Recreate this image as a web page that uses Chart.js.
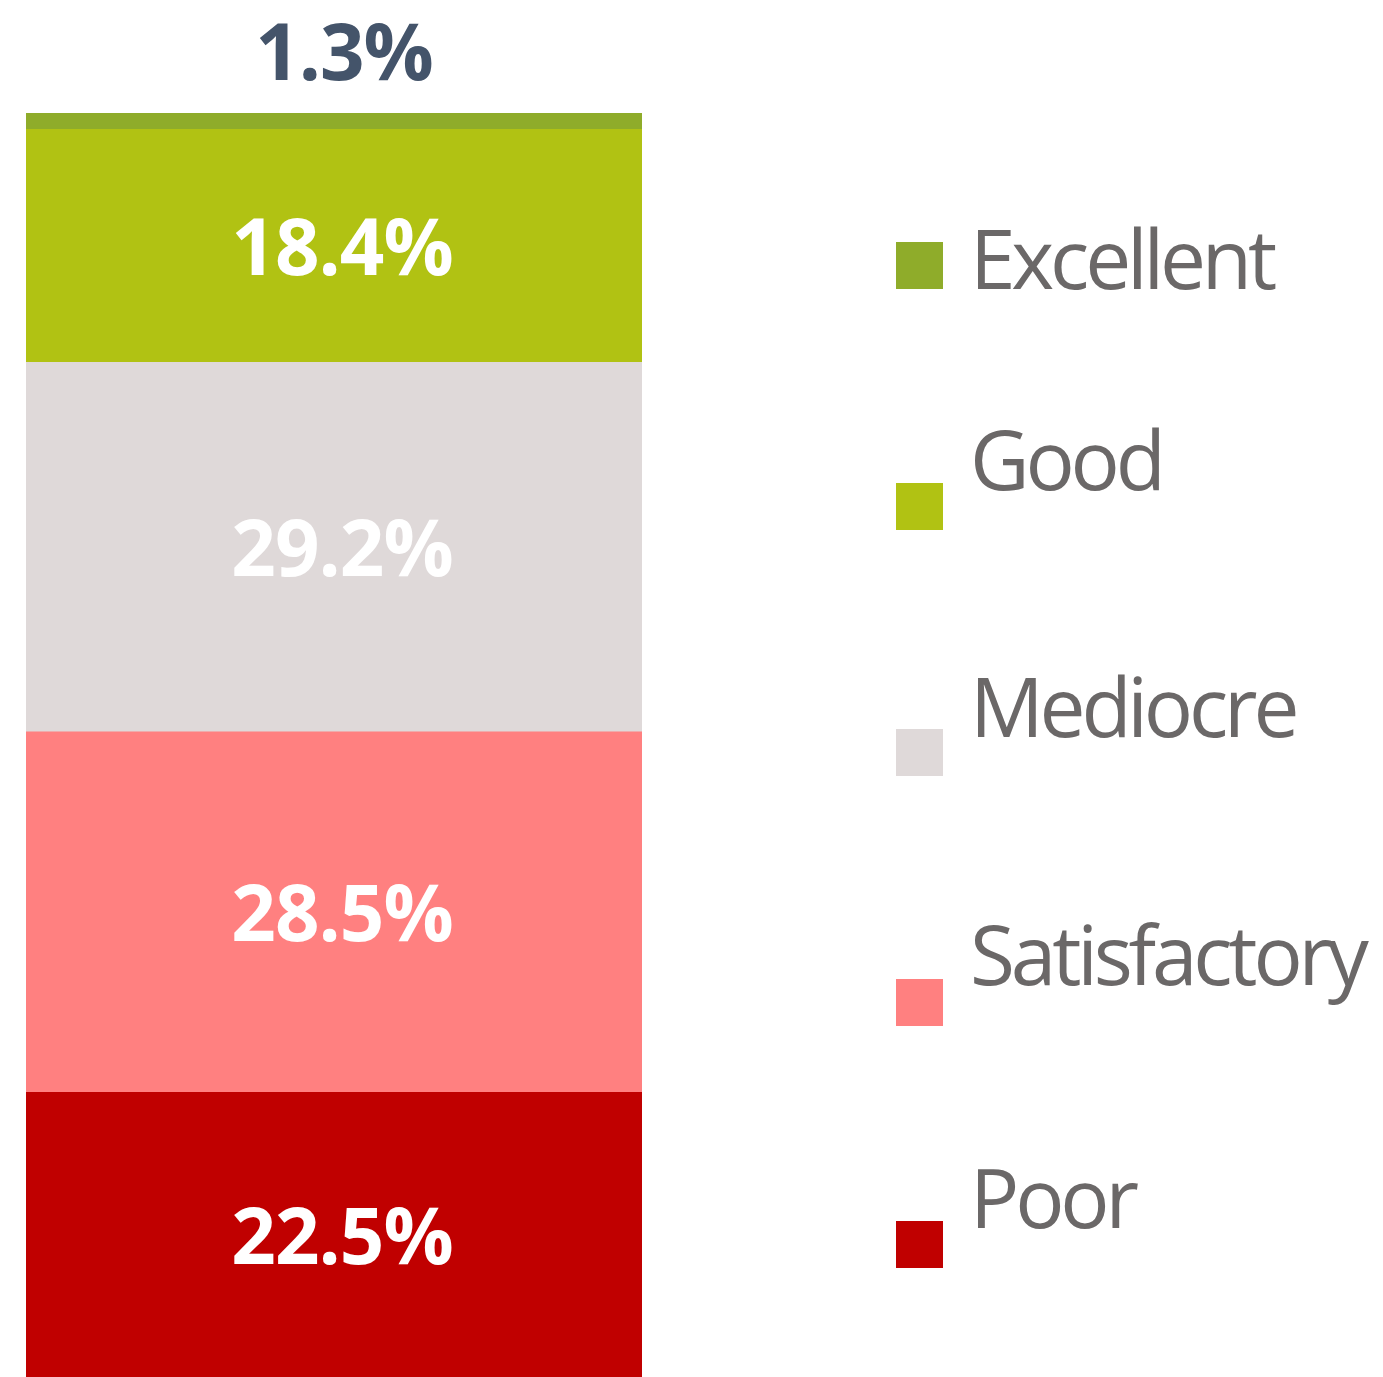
<!DOCTYPE html>
<html>
<head>
<meta charset="utf-8">
<script src="https://cdn.jsdelivr.net/npm/chart.js@4.4.1/dist/chart.umd.min.js"></script>
<style>
  html, body { margin: 0; padding: 0; background: #fff; }
  #wrap { width: 1383px; height: 1377px; position: relative; }
</style>
</head>
<body>
<div id="wrap"><canvas id="ratingChart"></canvas></div>
<script>
// rating split, bottom of the stack first
const categories = ['All']
const ratings = ['Poor', 'Satisfactory', 'Mediocre', 'Good', 'Excellent']
const shares  = [22.5, 28.5, 29.2, 18.4, 1.3]
const colors  = ['#c00000', '#ff8080', '#dfd9d9', '#b1c213', '#8fac2a']

// legend order is top to bottom in the picture
const legendOrder = [4, 3, 2, 1, 0]
// square top / text baseline for each legend row
const legendRows = [
  { top: 242, base: 289 },
  { top: 483, base: 490 },
  { top: 729, base: 737 },
  { top: 979, base: 985 },
  { top: 1221, base: 1228 },
]

const total = shares.reduce((a, b) => a + b, 0)

const valueLabels = {
  id: 'valueLabels',
  afterDatasetsDraw(chart) {
    const ctx = chart.ctx
    ctx.save()
    ctx.font = '700 78px "Open Sans", "Noto Sans", sans-serif'
    ctx.letterSpacing = '-1px'
    ctx.textAlign = 'center'
    chart.data.datasets.forEach((ds, i) => {
      const bar = chart.getDatasetMeta(i).data[0]
      if (!bar) return
      const txt = ds.data[0].toFixed(1) + '%'
      const h = Math.abs(bar.base - bar.y)
      if (h < 60) {
        ctx.fillStyle = '#44546a'
        ctx.textBaseline = 'alphabetic'
        ctx.fillText(txt, bar.x + 10, bar.y - 33)
      } else {
        ctx.fillStyle = '#ffffff'
        ctx.textBaseline = 'middle'
        ctx.fillText(txt, bar.x + 8, (bar.y + bar.base) / 2 + 7)
      }
    })
    ctx.restore()
  }
}

const sideLegend = {
  id: 'sideLegend',
  afterDraw(chart) {
    const ctx = chart.ctx
    ctx.save()
    ctx.font = '400 82px "Open Sans", "Noto Sans", sans-serif'
    ctx.letterSpacing = '-4.2px'
    ctx.textAlign = 'left'
    ctx.textBaseline = 'alphabetic'
    legendOrder.forEach((idx, row) => {
      const r = legendRows[row]
      ctx.fillStyle = colors[idx]
      ctx.fillRect(896, r.top, 47, 47)
      ctx.fillStyle = '#6b6868'
      ctx.fillText(ratings[idx], 970, r.base)
    })
    ctx.restore()
  }
}

new Chart(document.getElementById('ratingChart'), {
  type: 'bar',
  data: {
    labels: categories,
    datasets: ratings.map((name, i) => ({
      label: name,
      data: [shares[i]],
      backgroundColor: colors[i],
      borderWidth: 0,
      barPercentage: 1,
      categoryPercentage: 1,
    })),
  },
  options: {
    responsive: true, maintainAspectRatio: false, animation: false,
    layout: { padding: { left: 26, right: 741, top: 113, bottom: 0 } },
    scales: {
      x: { stacked: true, display: false },
      y: { stacked: true, display: false, min: 0, max: total },
    },
    plugins: { legend: { display: false }, tooltip: { enabled: false } },
  },
  plugins: [valueLabels, sideLegend],
})
</script>
</body>
</html>
